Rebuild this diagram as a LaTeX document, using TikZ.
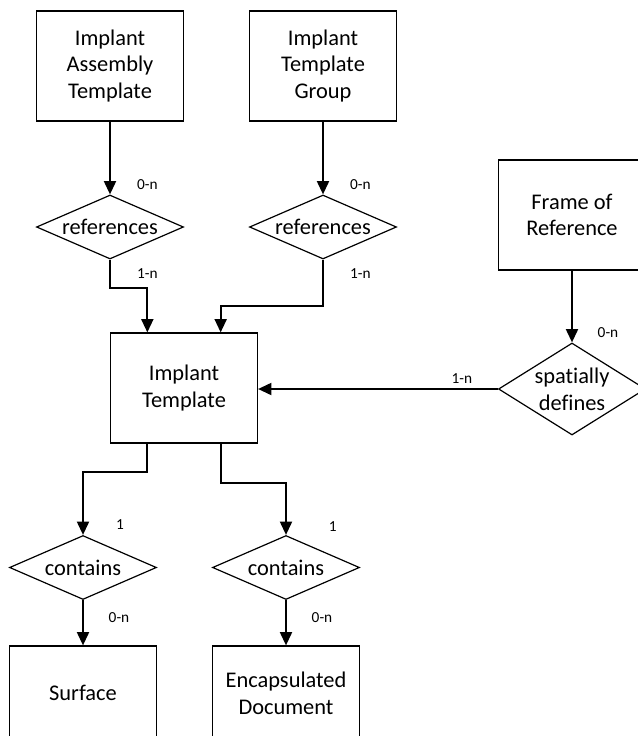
\documentclass[tikz,border=0pt]{standalone}
\usepackage{fontspec}
\setmainfont[Ligatures=NoCommon]{Carlito}
\usepackage{tikz}
\usetikzlibrary{arrows.meta,shapes.geometric}

\tikzset{
    entity/.style={draw, line width=0.9pt, align=center, inner sep=0pt,
        minimum width=110.25pt, minimum height=82.5pt,
        font=\fontsize{16.8}{20}\selectfont},
    relation/.style={draw, diamond, line width=0.9pt, align=center, inner sep=0pt,
        minimum width=110.25pt, minimum height=48pt, aspect=2.3,
        font=\fontsize{16.8}{20}\selectfont},
    conn/.style={-{Triangle[width=9pt,length=10pt]}, line width=1.5pt},
    card/.style={inner sep=0pt, font=\fontsize{11.5}{13}\selectfont}
}

\begin{document}
\begin{tikzpicture}[x=0.75pt, y=-0.75pt]
    \useasboundingbox (0,0) rectangle (637,736);

    % Nodes {entities, relations}
    \node [entity]   (iat)  at (110,66)  {Implant\\Assembly\\Template};
    \node [entity]   (itg)  at (323,66)  {Implant\\Template\\Group};
    \node [relation] (ref1) at (110,227) {references};
    \node [relation] (ref2) at (323,227) {references};
    \node [entity]   (for)  at (572,215) {Frame of\\Reference};
    \node [relation, minimum height=69pt, aspect=1.6] (sd) at (572,389) {spatially\\defines};
    \node [entity]   (it)   at (184,388) {Implant\\Template};
    \node [relation] (con1) at (83,567.5)  {contains};
    \node [relation] (con2) at (286,567.5) {contains};
    \node [entity, minimum height=70.5pt] (surf) at (83,693)  {Surface};
    \node [entity, minimum height=70.5pt] (encd) at (286,693) {Encapsulated\\Document};

    % Paths
    \draw [conn] (iat) -- node [card, pos=.86, xshift=28pt] (m1) {0-n} (ref1);
    \draw [conn] (itg) -- node [card, pos=.86, xshift=28pt] (m2) {0-n} (ref2);
    \draw [conn] (ref1.south) -- node [card, xshift=28pt] (m3) {1-n} ++(0,28)
        -| ([xshift=-27.5pt]it.north);
    \draw [conn] (ref2.south) -- ++(0,46) -| ([xshift=27.5pt]it.north);
    \path (ref2.south) -- node [card, xshift=28pt] (m4) {1-n} ++(0,28);
    \draw [conn] (for) -- node [card, pos=.86, xshift=27pt] (m5) {0-n} (sd);
    \draw [conn] (sd.west) -- node [card, pos=.15, yshift=8pt] (m6) {1-n} (sd.west -| it.east);
    \draw [conn] ([xshift=-27.5pt]it.south) -- ++(0,28)
        -| node [card, pos=.92, xshift=27.75pt] (m7) {1} (con1.north);
    \draw [conn] ([xshift=27.5pt]it.south) -- ++(0,39)
        -| node [card, pos=.92, xshift=35pt] (m8) {1} (con2.north);
    \draw [conn] (con1) -- node [card, pos=.38, xshift=27pt] (m9) {0-n} (surf);
    \draw [conn] (con2) -- node [card, pos=.38, xshift=27pt] (m10) {0-n} (encd);

\end{tikzpicture}
\end{document}
